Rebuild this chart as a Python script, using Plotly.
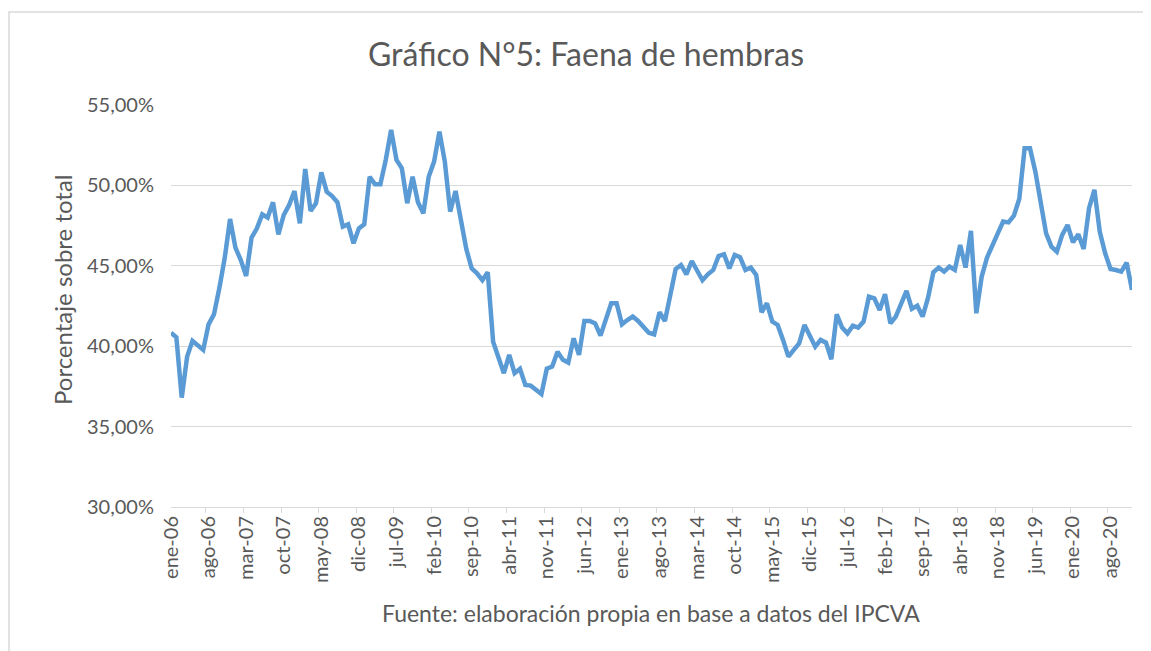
import plotly.graph_objects as go

# Monthly share of females in total slaughter (%), ene-2006 .. dic-2020
MESES = ["ene", "feb", "mar", "abr", "may", "jun", "jul", "ago", "sep", "oct", "nov", "dic"]
ANIOS = list(range(2006, 2021))
meses = [f"{m}-{str(a)[2:]}" for a in ANIOS for m in MESES]

faena_hembras = [
    40.84, 40.55, 36.80, 39.35, 40.33, 40.08, 39.77, 41.36, 41.98, 43.60, 45.47, 47.91,
    46.13, 45.36, 44.37, 46.75, 47.33, 48.20, 48.00, 48.95, 46.96, 48.16, 48.78, 49.65,
    47.64, 51.02, 48.41, 48.89, 50.81, 49.61, 49.34, 48.95, 47.44, 47.58, 46.40, 47.33,
    47.58, 50.54, 50.07, 50.07, 51.58, 53.45, 51.58, 51.06, 48.89, 50.54, 48.95, 48.26,
    50.54, 51.48, 53.34, 51.48, 48.37, 49.65, 47.95, 46.05, 44.84, 44.53, 44.10, 44.60,
    40.28, 39.25, 38.32, 39.46, 38.32, 38.59, 37.59, 37.55, 37.28, 37.03, 38.60, 38.73,
    39.66, 39.15, 38.98, 40.49, 39.46, 41.57, 41.57, 41.42, 40.66, 41.69, 42.67, 42.67,
    41.36, 41.63, 41.84, 41.57, 41.16, 40.84, 40.74, 42.11, 41.57, 43.08, 44.80, 45.05,
    44.47, 45.30, 44.64, 44.10, 44.47, 44.74, 45.61, 45.72, 44.84, 45.67, 45.53, 44.74,
    44.89, 44.43, 42.11, 42.67, 41.53, 41.32, 40.39, 39.35, 39.77, 40.18, 41.32, 40.60,
    39.97, 40.39, 40.22, 39.19, 41.98, 41.16, 40.80, 41.28, 41.16, 41.53, 43.08, 42.98,
    42.25, 43.23, 41.42, 41.84, 42.67, 43.44, 42.32, 42.52, 41.84, 43.00, 44.60, 44.89,
    44.64, 44.95, 44.74, 46.30, 44.89, 47.17, 42.05, 44.33, 45.51, 46.19, 47.02, 47.75,
    47.70, 48.12, 49.16, 52.31, 52.31, 50.85, 48.99, 47.02, 46.19, 45.88, 46.92, 47.54,
    46.46, 46.96, 46.05, 48.58, 49.72, 47.12, 45.78, 44.80, 44.74, 44.64, 45.20, 43.50,
]

FONT = "Lato, 'Open Sans', sans-serif"
GRIS_TEXTO = "#595959"
GRIS_LINEA = "#D9D9D9"

# page body adds an 8px offset, so the figure is 8px smaller on each side
W, H = 1143, 643
PLOT_W, PLOT_H = 961, 402

fig = go.Figure(go.Scatter(
    x=meses, y=faena_hembras, mode="lines",
    line=dict(color="#5B9BD5", width=4.5),
    hovertemplate="%{x}: %{y:.2f}%<extra></extra>",
))

fig.update_layout(
    width=W, height=H,
    paper_bgcolor="white", plot_bgcolor="white",
    margin=dict(l=163, r=19, t=97, b=144),
    separators=",.",
    showlegend=False,
    font=dict(family=FONT, color=GRIS_TEXTO),
    title=dict(text="Gráfico N°5: Faena de hembras", x=578 / W, xanchor="center",
               y=1 - 47 / H, yanchor="middle", font=dict(size=32, color=GRIS_TEXTO)),
    xaxis=dict(type="category", tickmode="linear", tick0=0, dtick=7,
               tickson="boundaries", ticks="outside", ticklen=5, tickcolor=GRIS_LINEA,
               tickangle=-90, tickfont=dict(size=20, color=GRIS_TEXTO),
               showline=True, linecolor=GRIS_LINEA, linewidth=1,
               showgrid=False, zeroline=False),
    yaxis=dict(range=[30, 55], dtick=5, tickformat=".2f", ticksuffix="%",
               tickfont=dict(size=20, color=GRIS_TEXTO), ticks="",
               ticklabelstandoff=16,
               showgrid=True, gridcolor=GRIS_LINEA, gridwidth=1,
               zeroline=False, showline=False),
    annotations=[
        dict(text="Porcentaje sobre total", textangle=-90, xref="paper", yref="paper",
             x=(62 - 171) / PLOT_W, y=(507 - 290) / PLOT_H, xanchor="center", yanchor="middle",
             showarrow=False, font=dict(size=24, color=GRIS_TEXTO)),
        dict(text="Fuente: elaboración propia en base a datos del IPCVA",
             xref="paper", yref="paper", x=(651 - 171) / PLOT_W, y=(507 - 613) / PLOT_H,
             xanchor="center", yanchor="middle", showarrow=False,
             font=dict(size=23, color=GRIS_TEXTO)),
    ],
    shapes=[dict(type="rect", xref="paper", yref="paper",
                 x0=(9 - 171) / PLOT_W, x1=(1170 - 171) / PLOT_W,
                 y0=(507 - 670) / PLOT_H, y1=(507 - 12) / PLOT_H,
                 line=dict(color=GRIS_LINEA, width=1.5), fillcolor="rgba(0,0,0,0)",
                 layer="below")],
)

fig.write_html("out.html")
